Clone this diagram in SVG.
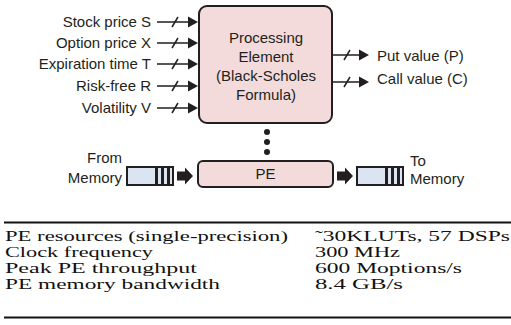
<svg xmlns="http://www.w3.org/2000/svg" width="511" height="325" viewBox="0 0 511 325">
<defs>
<style>
.s{font-family:"Liberation Sans",Arial,sans-serif;font-size:15px;fill:#231f20}
.t{font-family:"Liberation Serif","Times New Roman",serif;font-size:15.5px;fill:#111}
.ln{stroke:#231f20;stroke-width:1.5;fill:none}
.box{fill:#f3dbdb;stroke:#231f20;stroke-width:2}
.buf{fill:#dbe5f1;stroke:#231f20;stroke-width:2}
.blk{fill:#231f20}
</style>
<path id="ah" d="M-10,-5.5 L0,0 L-10,5.5 Z" class="blk"/>
<g id="buffer">
<rect x="0" y="0" width="46" height="18" class="buf"/>
<rect x="28" y="0" width="3" height="18" class="blk"/>
<rect x="34" y="0" width="3" height="18" class="blk"/>
<rect x="40" y="0" width="3" height="18" class="blk"/>
</g>
<path id="barrow" d="M0,-4.5 H8 V-8.5 L16,0 L8,8.5 V4.5 H0 Z" class="blk"/>
</defs>
<rect width="511" height="325" fill="#fff"/>

<g id="connectors">
<path class="ln" d="M157,22 H190 M157,43 H190 M157,64 H190 M157,86 H190 M157,108 H190"/>
<use href="#ah" x="198" y="22"/>
<use href="#ah" x="198" y="43"/>
<use href="#ah" x="198" y="64"/>
<use href="#ah" x="198" y="86"/>
<use href="#ah" x="198" y="108"/>
<path class="ln" d="M172,27 L178,17 M172,48 L178,38 M172,69 L178,59 M172,91 L178,81 M172,113 L178,103"/>
<path class="ln" d="M333,55 H362 M333,82 H362"/>
<use href="#ah" x="369" y="55"/>
<use href="#ah" x="369" y="82"/>
<path class="ln" d="M344,60 L350,50 M344,87 L350,77"/>
<use href="#barrow" x="177" y="176"/>
<use href="#barrow" x="337" y="176"/>
<circle cx="267" cy="132" r="3" class="blk"/>
<circle cx="267" cy="142" r="3" class="blk"/>
<circle cx="267" cy="152" r="3" class="blk"/>
</g>

<g id="inputs">
<text class="s" x="151" y="27" text-anchor="end">Stock price S</text>
<text class="s" x="151" y="48" text-anchor="end">Option price X</text>
<text class="s" x="151" y="69" text-anchor="end">Expiration time T</text>
<text class="s" x="151" y="91" text-anchor="end">Risk-free R</text>
<text class="s" x="151" y="113" text-anchor="end">Volatility V</text>
</g>

<g id="pe-main">
<rect x="199" y="6" width="133" height="117" rx="8" class="box"/>
<text class="s" text-anchor="middle"><tspan x="266" y="43">Processing</tspan><tspan x="266" y="62">Element</tspan><tspan x="266" y="81">(Black-Scholes</tspan><tspan x="266" y="100">Formula)</tspan></text>
</g>

<g id="outputs">
<text class="s" x="377" y="61">Put value (P)</text>
<text class="s" x="377" y="84">Call value (C)</text>
</g>

<g id="from-memory">
<text class="s" x="122" y="163" text-anchor="end">From</text>
<text class="s" x="122" y="183" text-anchor="end">Memory</text>
<use href="#buffer" x="127" y="167"/>
</g>

<g id="pe">
<rect x="198" y="161" width="135" height="26" rx="5" class="box"/>
<text class="s" x="265.5" y="179" text-anchor="middle">PE</text>
</g>

<g id="to-memory">
<use href="#buffer" x="357" y="167"/>
<text class="s" x="410" y="166">To</text>
<text class="s" x="410" y="184">Memory</text>
</g>

<g id="table">
<line x1="4" y1="222.5" x2="511" y2="222.5" stroke="#111" stroke-width="1.8"/>
<line x1="4" y1="317.5" x2="511" y2="317.5" stroke="#111" stroke-width="1.8"/>
<text class="t" x="5" y="241" textLength="283" lengthAdjust="spacingAndGlyphs">PE resources (single-precision)</text>
<text class="t" x="5" y="257" textLength="148" lengthAdjust="spacingAndGlyphs">Clock frequency</text>
<text class="t" x="5" y="273" textLength="192" lengthAdjust="spacingAndGlyphs">Peak PE throughput</text>
<text class="t" x="5" y="289" textLength="215" lengthAdjust="spacingAndGlyphs">PE memory bandwidth</text>
<text class="t" x="315" y="241" textLength="195" lengthAdjust="spacingAndGlyphs">˜30KLUTs, 57 DSPs</text>
<text class="t" x="315" y="257" textLength="85" lengthAdjust="spacingAndGlyphs">300 MHz</text>
<text class="t" x="315" y="273" textLength="147" lengthAdjust="spacingAndGlyphs">600 Moptions/s</text>
<text class="t" x="315" y="289" textLength="88" lengthAdjust="spacingAndGlyphs">8.4 GB/s</text>
</g>
</svg>
